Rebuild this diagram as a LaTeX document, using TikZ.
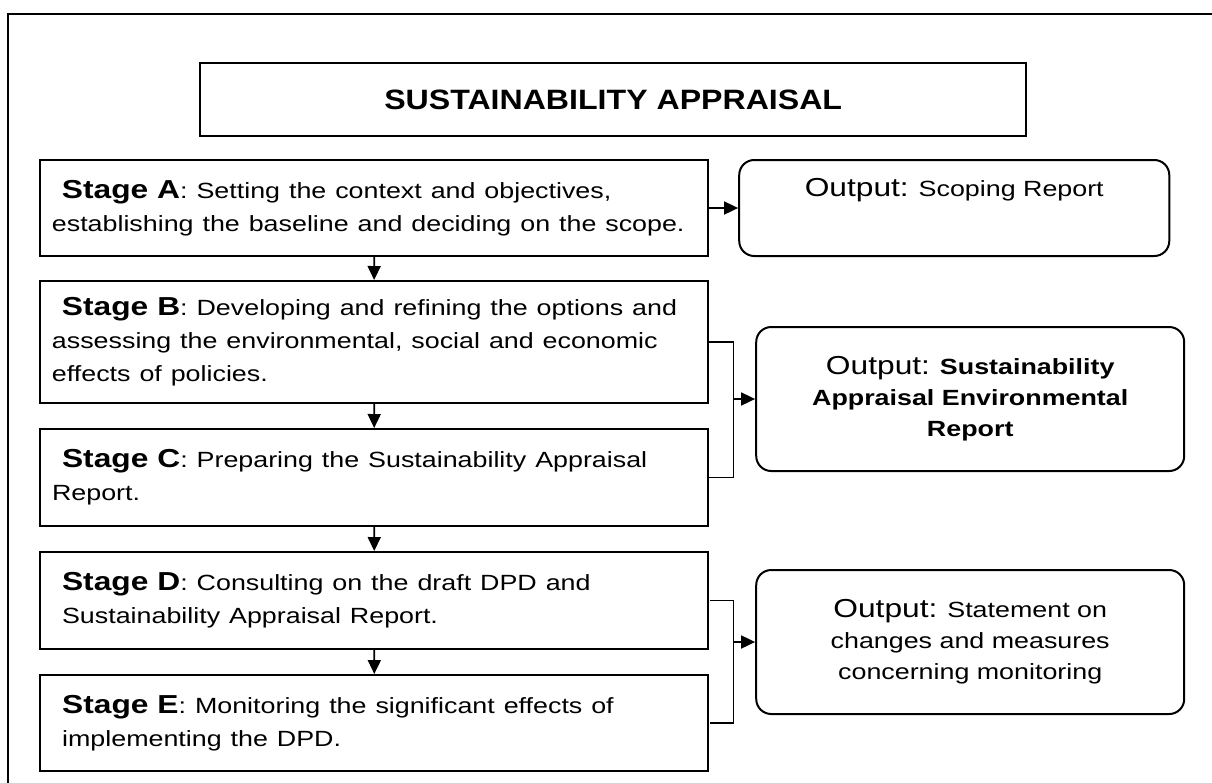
\documentclass[tikz,border=0pt]{standalone}
\usepackage{fontspec}
\setmainfont{Liberation Sans}
\usetikzlibrary{positioning,arrows.meta}

\newcommand\stagefont{\fontsize{26}{33}\selectfont\bfseries}
\newcommand\outfont{\fontsize{26}{33}\selectfont}
\newcommand\ind{\hspace*{8.2pt}}

\tikzset{
  frame/.style={draw, line width=2.4pt},
  titlebox/.style={draw, line width=2pt, minimum width=677pt, minimum height=73pt,
    inner sep=0pt, font=\fontsize{28}{32}\selectfont\bfseries, anchor=north west},
  stagebox/.style={draw, line width=2pt, text width=528pt, inner xsep=9.8pt,
    inner ysep=0pt, align=left, font=\fontsize{22}{33}\selectfont, anchor=north},
  outbox/.style={draw, line width=2pt, rounded corners=15pt, minimum width=350.8pt,
    minimum height=144pt, inner sep=0pt, align=center,
    font=\fontsize{22}{31}\selectfont, anchor=north west},
  link/.style={line width=1.8pt},
  arrow/.style={link, -{Triangle[length=14pt,width=13pt]}}
}

\begin{document}
\begin{tikzpicture}[x=0.81967pt, y=-1pt, xscale=1.22, every node/.append style={transform shape}]

    \useasboundingbox (0,0) rectangle (1212,782);
    \clip (0,0) rectangle (1212,782);

    % Outer frame
    \draw[frame] (8,14) rectangle (1240,810);

    % Title
    \node[titlebox] (title) at (199,62) {\scalebox{0.94}[1]{SUSTAINABILITY APPRAISAL}};

    % Stages
    \node[stagebox, minimum height=96pt] (A) at (374,159)
      {\ind{\stagefont Stage A}: Setting the context and objectives,\\
       establishing the baseline and deciding on the scope.};
    \node[stagebox, minimum height=122pt, below=23pt of A] (B)
      {\ind{\stagefont Stage B}: Developing and refining the options and\\
       assessing the environmental, social and economic\\
       effects of policies.};
    \node[stagebox, minimum height=97pt, below=24pt of B] (C)
      {\ind{\stagefont Stage C}: Preparing the Sustainability Appraisal\\
       Report.};
    \node[stagebox, minimum height=97pt, below=24pt of C] (D)
      {\ind{\stagefont Stage D}: Consulting on the draft DPD and\\
       \ind Sustainability Appraisal Report.};
    \node[stagebox, minimum height=96pt, below=24pt of D] (E)
      {\ind{\stagefont Stage E}: Monitoring the significant effects of\\
       \ind implementing the DPD.};

    % Outputs
    \node[outbox, minimum width=352.5pt, minimum height=96pt] (O1) at (738,159)
      {{\outfont Output:} Scoping Report\\ \strut};
    \node[outbox] (O2) at (755,326)
      {{\outfont Output:} \textbf{Sustainability}\\
       \textbf{Appraisal Environmental}\\ \textbf{Report}};
    \node[outbox] (O3) at (755,569)
      {{\outfont Output:} Statement on\\ changes and measures\\ concerning monitoring};

    % Stage sequence
    \draw[arrow] (A) -- (B);
    \draw[arrow] (B) -- (C);
    \draw[arrow] (C) -- (D);
    \draw[arrow] (D) -- (E);

    % Stage A output
    \draw[arrow] (A) -- (O1);

    % Stages B and C output
    \draw[link] (B.east) -- ++(24,0) coordinate (bc) |- (C.east);
    \coordinate (bcmid) at (bc |- O2.west);
    \draw[arrow] (bcmid) -- (O2.west);

    % Stages D and E output
    \draw[link] (D.east) -- ++(24,0) coordinate (de) |- (E.east);
    \coordinate (demid) at (de |- O3.west);
    \draw[arrow] (demid) -- (O3.west);

\end{tikzpicture}
\end{document}
